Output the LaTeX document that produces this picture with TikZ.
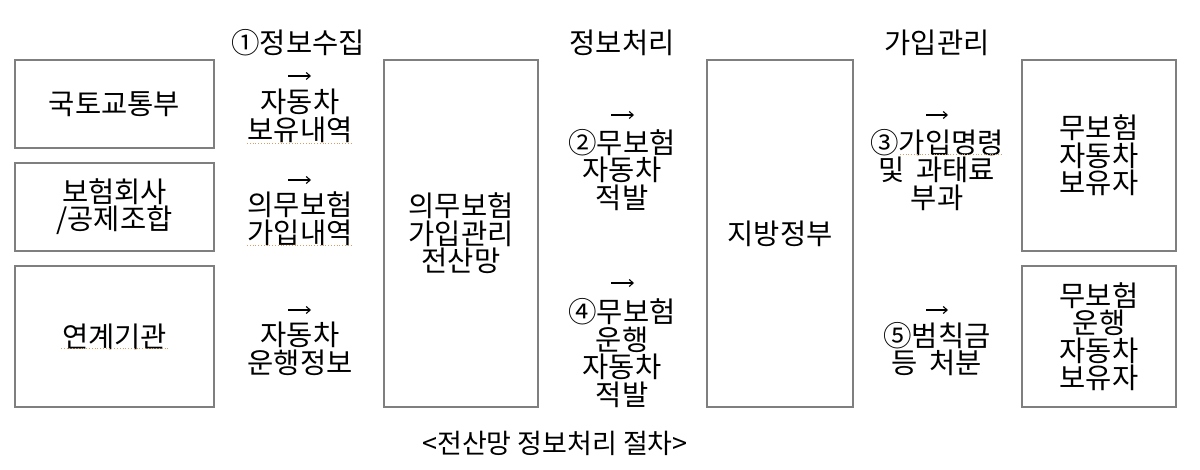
\documentclass[tikz,border=0pt]{standalone}
\usepackage{fontspec}
\usetikzlibrary{arrows.meta}
\setmainfont{Noto Sans CJK KR}
\definecolor{boxgray}{HTML}{7F7F7F}
\definecolor{spellor}{HTML}{D9A066}
\newcommand{\kfont}[1]{\fontsize{28.5}{#1}\selectfont\lineskiplimit=-60pt\lineskip=0pt}
\begin{document}
\begin{tikzpicture}[x=1pt,y=-1pt,
  box/.style={draw=boxgray, line width=1.2pt, inner sep=0pt, align=center,
    font=\kfont{27.5}},
  txt/.style={font=\kfont{27.5}, align=center, inner sep=0pt},
  spell/.style={draw=spellor, dotted, line width=0.8pt},
  arr/.style={draw=black, line width=1.1pt, -{Straight Barb[length=4pt,width=7pt,line width=1.1pt]}}]
\useasboundingbox[fill=white] (0,0) rectangle (1200,470);

% boxes
\node[box, minimum width=199pt, minimum height=88pt] (molit) at (114.5,104) {국토교통부};
\node[box, minimum width=199pt, minimum height=88pt, font=\kfont{27}] (ins) at (114.5,207) {보험회사\\/공제조합};
\node[box, minimum width=199pt, minimum height=141pt] (link) at (114.5,336.5) {연계기관};
\node[box, minimum width=154pt, minimum height=347pt] (net) at (461,233.5) {의무보험\\가입관리\\전산망};
\node[box, minimum width=146pt, minimum height=347pt] (gov) at (780,233.5) {지방정부};
\node[box, minimum width=154pt, minimum height=191pt] (own1) at (1099,155.5) {무보험\\자동차\\보유자};
\node[box, minimum width=154pt, minimum height=141pt] (own2) at (1099,336.5) {무보험\\운행\\자동차\\보유자};

% headings
\node[txt] (h1) at (298,43) {①정보수집};
\node[txt] (h2) at (622,43) {정보처리};
\node[txt] (h3) at (937,43) {가입관리};

% labels
\node[txt] (l1) at (300,116) {자동차\\보유내역};
\node[txt] (l2) at (300,218.5) {의무보험\\가입내역};
\node[txt] (l3) at (300,349) {자동차\\운행정보};
\node[txt] (l4) at (622,170) {②무보험\\자동차\\적발};
\node[txt] (l5) at (622,353) {④무보험\\운행\\자동차\\적발};
\node[txt] (l6) at (937,170) {③가입명령\\및\hspace{0.4em}과태료\\부과};
\node[txt] (l7) at (937,349) {⑤범칙금\\등\hspace{0.4em}처분};

% small arrows above the labels
\coordinate (a1s) at (288,76);  \coordinate (a1e) at (311,76);
\coordinate (a2s) at (288,180); \coordinate (a2e) at (311,180);
\coordinate (a3s) at (288,310); \coordinate (a3e) at (311,310);
\coordinate (a4s) at (611,115); \coordinate (a4e) at (634,115);
\coordinate (a5s) at (611,283); \coordinate (a5e) at (634,283);
\coordinate (a6s) at (926,115); \coordinate (a6e) at (948,115);
\coordinate (a7s) at (926,310); \coordinate (a7e) at (948,310);
\foreach \i in {1,...,7} {\draw[arr] (a\i s) -- (a\i e);}

% caption
\node[txt, font=\fontsize{27}{28}\selectfont] (cap) at (555,443) {<전산망 정보처리 절차>};

% spell-check underlines
\draw[spell] (247,143) -- (353,143);
\draw[spell] (247,245) -- (353,245);
\draw[spell] (61,348) -- (168,348);
\draw[spell] (900,154) -- (1003,154);
\end{tikzpicture}
\end{document}
